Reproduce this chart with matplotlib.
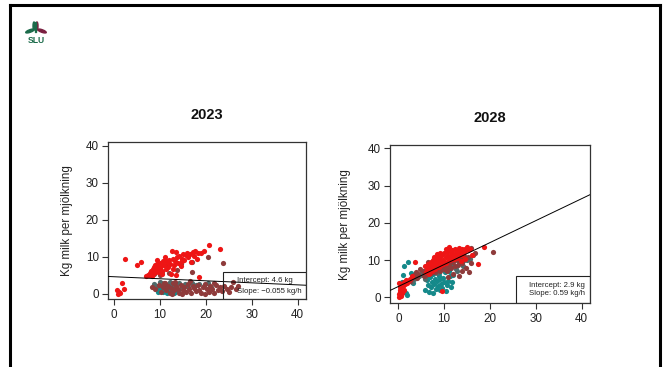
import matplotlib
matplotlib.use("Agg")
import matplotlib.pyplot as plt
from matplotlib.patches import Rectangle, Ellipse
from matplotlib.lines import Line2D

plt.rcParams['font.family'] = ['Liberation Sans', 'DejaVu Sans']

# ---------------- data ----------------
titles = ["2023", "2028"]
ylabel = "Kg milk per mjölkning"
ticks = [0, 10, 20, 30, 40]
intercepts = [4.6, 2.9]
slopes = [-0.055, 0.59]
legend_lines = [["Intercept: 4.6 kg", "Slope: \u22120.055 kg/h"],
                ["Intercept: 2.9 kg", "Slope: 0.59 kg/h"]]

# 2023
red23_x = [0.6, 0.9, 1.1, 1.7, 2.1, 1.4, 2.4, 4.9, 5.8,
           7.0, 7.3, 7.6, 7.8, 8.0, 8.2, 8.4, 8.6, 8.8, 9.0, 9.1, 9.3, 9.5, 9.6, 9.8,
           10.0, 10.1, 10.3, 10.5, 10.7, 10.9, 11.2, 11.4, 11.6, 11.8, 12.0, 12.2, 12.4,
           12.6, 12.8, 13.0, 13.2, 13.4, 13.5, 13.7, 14.0, 14.2, 14.5, 14.7, 14.9, 15.1,
           15.3, 15.6, 15.9, 16.2, 16.5, 16.8, 17.1, 17.4, 17.6, 18.0, 18.3, 18.6, 19.0,
           19.5, 20.7, 23.0, 9.4, 10.4, 11.0, 8.1, 12.9]
red23_y = [0.9, 0.0, 0.4, 2.8, 1.3, 0.2, 9.3, 7.7, 8.7,
           4.8, 5.2, 5.0, 5.6, 6.2, 4.9, 6.8, 7.2, 5.5, 7.8, 6.4, 8.1, 7.0, 5.8, 7.6,
           8.3, 6.9, 7.4, 6.2, 8.8, 7.9, 9.1, 6.8, 8.5, 7.2, 9.0, 8.0, 5.3,
           11.5, 9.4, 7.7, 8.9, 11.4, 5.2, 9.8, 8.3, 10.2, 7.5, 9.5, 8.8, 10.8,
           9.2, 10.5, 11.0, 9.9, 10.7, 8.6, 11.2, 10.1, 11.6, 9.5, 10.9, 4.4, 11.0,
           11.6, 13.2, 12.1, 9.0, 5.3, 10.0, 5.9, 6.6]
brown23_x = [20.5, 23.8, 16.9, 12.0, 17.0, 14.5, 11.5, 8.6, 13.8, 10.0,
             8.3, 9.0, 9.7, 10.2, 10.6, 11.0, 11.3, 11.7, 12.1, 12.4, 12.8, 13.1, 13.5,
             13.9, 14.2, 14.6, 15.0, 15.3, 15.7, 16.1, 16.4, 16.8, 17.2, 17.5, 17.9, 18.3,
             18.6, 19.0, 19.4, 19.8, 20.2, 20.6, 21.0, 21.4, 21.8, 22.2, 22.6, 23.0, 23.5,
             24.0, 24.5, 25.0, 25.5, 26.0, 26.6, 27.0, 12.6, 14.9, 19.7, 10.9, 16.6,
             21.7, 13.3]
brown23_y = [10.0, 8.2, 5.8, 5.5, 8.5, 8.0, 7.8, 5.3, 6.5, 5.0,
             1.8, 1.2, 2.4, 0.5, 1.9, 2.8, 1.1, 2.2, 0.2, 1.6, 2.9, 0.9, 2.0,
             1.4, 0.3, 2.5, 1.0, 1.9, 0.6, 2.7, 1.3, 0.1, 2.1, 1.5, 0.8, 2.4,
             1.0, 0.3, 1.8, 2.6, 1.2, 0.5, 2.0, 1.4, 0.2, 2.3, 1.0, 1.7, 0.7,
             2.2, 1.3, 0.6, 1.9, 3.2, 1.2, 2.0, 0.0, -0.1, 0.0, 3.0, 3.4,
             2.8, 3.3]
teal23_x = [9.2, 9.5, 9.8, 10.0, 10.2, 10.4, 10.6, 10.8, 11.0, 11.2, 11.4, 11.6,
            11.8, 12.0, 12.3, 12.6, 12.9, 13.2, 13.6, 14.0, 9.6, 10.9, 13.0, 11.5]
teal23_y = [1.5, 0.6, 1.1, 2.0, 0.9, 1.6, 0.4, 1.3, 0.8, 1.9, 1.0, 0.5,
            1.4, 2.2, 0.7, 1.2, 1.8, 0.6, 1.1, 0.9, 1.9, 2.3, 0.3, 0.2]
grey23_x = [8.7, 9.4, 10.3, 11.1, 11.9, 12.7, 13.4, 14.1, 14.8, 15.5, 16.2, 17.0,
            17.8, 18.6, 19.5, 20.4, 21.2, 9.9, 12.2, 10.4]
grey23_y = [2.6, 2.2, 2.9, 1.7, 2.7, 2.4, 1.6, 2.8, 1.9, 2.6, 1.7, 2.9,
            2.3, 2.7, 2.1, 2.9, 1.8, 3.1, 3.2, 5.9]

# 2028
red28_x = [0.1, 0.2, 0.3, 0.4, 0.5, 0.6, 0.7, 0.8, 0.9, 1.0, 1.2, 1.3, 1.5, 1.7,
           0.2, 0.4, 0.6, 0.3, 1.1, 1.9,
           3.6, 9.5, 17.3, 18.8, 16.0,
           5.8, 6.2, 6.5, 6.8, 7.0, 7.2, 7.4, 7.6, 7.8, 8.0, 8.2, 8.4, 8.6, 8.8, 9.0,
           9.2, 9.4, 9.6, 9.8, 10.0, 10.2, 10.4, 10.6, 10.8, 11.0, 11.2, 11.4, 11.6,
           11.8, 12.0, 12.2, 12.4, 12.6, 12.8, 13.0, 13.2, 13.4, 13.6, 13.8, 14.0,
           14.3, 14.6, 15.0, 15.3, 15.7, 6.0, 6.7, 7.3, 8.1, 8.9, 9.7, 10.5, 11.3,
           12.1, 12.9, 9.1, 10.3, 11.1, 7.9, 8.5, 13.7, 14.5, 2.1, 2.6, 3.1]
red28_y = [0.0, 1.0, 2.1, 0.6, 1.6, 2.8, 3.5, 1.2, 2.4, 3.1, 4.2, 2.0, 3.6, 4.6,
           3.9, 1.3, 0.4, 2.9, 1.7, 3.9,
           9.4, 1.8, 9.0, 13.4, 11.5,
           8.4, 7.6, 9.0, 8.2, 7.3, 9.5, 8.6, 10.1, 7.9, 9.2, 10.6, 8.5, 9.8, 11.0, 9.4,
           10.3, 8.8, 11.4, 10.0, 11.8, 9.6, 10.8, 12.2, 11.0, 9.9, 12.5, 11.3, 10.4,
           12.8, 11.6, 10.8, 13.0, 11.9, 12.4, 11.1, 13.3, 12.0, 12.7, 11.5, 13.1,
           12.2, 12.9, 13.6, 12.6, 13.0, 6.8, 6.3, 7.0, 7.7, 8.2, 9.0, 9.3, 10.0,
           10.2, 10.6, 12.0, 12.9, 13.4, 10.8, 11.6, 9.8, 10.4, 4.5, 5.0, 5.6]
brown28_x = [2.5, 3.0, 3.4, 3.9, 4.4, 4.8, 5.3, 5.6, 6.1, 6.6, 7.1, 7.5, 8.0, 8.3,
             8.7, 9.1, 9.5, 9.9, 10.3, 10.7, 11.1, 11.5, 11.9, 12.3, 12.7, 13.1, 13.5,
             13.9, 14.3, 14.7, 15.1, 15.5, 15.9, 16.3, 20.7, 12.0, 13.2, 10.9, 14.0,
             16.7, 15.8, 6.4, 4.0]
brown28_y = [4.4, 5.3, 6.0, 6.8, 6.2, 7.7, 7.0, 5.6, 6.0, 7.8, 6.5, 8.0, 6.9, 8.7,
             7.4, 7.0, 8.6, 7.6, 8.2, 7.2, 8.9, 7.8, 9.4, 8.4, 9.9, 8.8, 10.5,
             9.2, 11.2, 8.0, 10.8, 6.7, 9.3, 11.4, 12.1, 6.3, 5.8, 5.5, 7.2,
             12.0, 13.2, 9.6, 5.1]
teal28_x = [2.2, 1.3, 0.8, 1.6, 1.9, 0.5, 2.8, 1.0, 3.2,
            5.8, 6.2, 6.5, 6.8, 7.0, 7.2, 7.4, 7.6, 7.8, 8.0, 8.2, 8.4, 8.6, 8.8, 9.0,
            9.2, 9.4, 9.6, 9.8, 10.0, 10.3, 10.6, 10.9, 11.2, 11.5, 11.8, 6.0, 7.5,
            8.9, 10.2, 11.0, 12.0]
teal28_y = [9.5, 8.4, 4.0, 1.2, 0.7, 3.0, 6.6, 6.1, 3.8,
            2.0, 4.6, 3.2, 1.5, 5.4, 2.8, 4.0, 1.1, 3.5, 5.0, 2.3, 4.3, 3.0, 5.6, 1.9,
            4.8, 3.7, 2.6, 5.2, 4.1, 1.6, 3.2, 4.5, 5.8, 2.9, 4.0, 5.9, 6.2,
            6.5, 6.8, 7.2, 6.0]
grey28_x = [3.5, 4.1, 4.6, 5.1, 5.5, 6.0, 6.9, 7.7, 8.5, 9.3, 10.1, 10.9, 11.7,
            12.5, 13.3, 14.1, 14.9, 15.7, 3.0, 5.9, 12.8, 14.4]
grey28_y = [5.0, 6.3, 5.6, 6.9, 6.1, 7.4, 7.0, 7.6, 6.6, 7.8, 7.3, 8.0, 8.6,
            7.6, 9.4, 8.4, 9.9, 10.2, 4.2, 4.8, 7.0, 10.1]

panels = [
    dict(teal=(teal23_x, teal23_y), grey=(grey23_x, grey23_y),
         brown=(brown23_x, brown23_y), red=(red23_x, red23_y)),
    dict(teal=(teal28_x, teal28_y), grey=(grey28_x, grey28_y),
         brown=(brown28_x, brown28_y), red=(red28_x, red28_y)),
]
colors = dict(teal="#15898a", grey="#4f6a6a", brown="#8e3b3b", red="#ee1515")

# ---------------- figure ----------------
W, H = 667, 367
fig = plt.figure(figsize=(W / 100, H / 100), dpi=100)
fig.patch.set_facecolor("white")

def fx(px):
    return px / W

def fy(py):
    return 1 - py / H

# slide frame
for xs, ys in [([10, 660], [5, 5]), ([10, 10], [5, 367]), ([660, 660], [5, 367])]:
    fig.add_artist(Line2D([fx(v) for v in xs], [fy(v) for v in ys],
                          color="black", lw=2.2, transform=fig.transFigure))

# SLU logo
lax = fig.add_axes([fx(22), fy(47), fx(28), 30 / H])
lax.set_xlim(0, 28)
lax.set_ylim(30, 0)
lax.axis("off")
lax.add_patch(Ellipse((8.0, 14.0), 9, 2.6, angle=-20, color="#1b6b4a"))
lax.add_patch(Ellipse((20.0, 14.0), 9, 2.6, angle=20, color="#7a2040"))
lax.add_patch(Ellipse((12.0, 9), 2.0, 8, angle=0, color="#1b6b4a"))
lax.add_patch(Ellipse((15.0, 9), 2.0, 8, angle=0, color="#7a2040"))
lax.add_patch(Rectangle((13.0, 5), 1.0, 10, color="#1b6b4a"))
lax.text(14, 23.5, "SLU", ha="center", va="center", fontsize=6.2,
         fontweight="bold", color="#1b6b4a")

axes_px = [(108.3, 306.0, 141.7, 299.3), (390.0, 590.0, 145.0, 303.3)]
xlims = [(-1.25, 41.8), (-1.8, 41.8)]
ylims = [(-1.5, 41.1), (-1.6, 40.9)]
title_pos = [(206.7, 115.5), (490.0, 117.7)]
ylab_pos = [67, 345]
leg_box_x = [0.582, 0.628]
leg_box_h = [0.175, 0.174]
leg_text_x = [0.65, 0.697]
leg_text_y = [(0.117, 0.052), (0.115, 0.063)]

for i, p in enumerate(panels):
    l, r, t, b = axes_px[i]
    ax = fig.add_axes([fx(l), fy(b), (r - l) / W, (b - t) / H])
    for key in ["teal", "grey", "brown", "red"]:
        xs, ys = p[key]
        ax.scatter(xs, ys, s=14, color=colors[key], linewidths=0, zorder=2)
    ax.set_xlim(*xlims[i])
    ax.set_ylim(*ylims[i])
    ax.axline((0, intercepts[i]), slope=slopes[i], color="black", lw=0.7, zorder=3)
    ax.set_xticks(ticks)
    ax.set_yticks(ticks)
    ax.tick_params(direction="out", length=4.3, width=0.8, color="#333333",
                   labelsize=8.4, labelcolor="#222222")
    ax.tick_params(axis="x", pad=2.5)
    ax.tick_params(axis="y", pad=2.5)
    for s in ax.spines.values():
        s.set_color("#333333")
        s.set_linewidth(0.9)
    ax.add_patch(Rectangle((leg_box_x[i], 0), 1 - leg_box_x[i], leg_box_h[i],
                           transform=ax.transAxes, fill=False, edgecolor="#222222",
                           lw=0.8, zorder=4))
    for j, txt in enumerate(legend_lines[i]):
        ax.text(leg_text_x[i], leg_text_y[i][j], txt, transform=ax.transAxes,
                fontsize=5.6, ha="left", va="center", color="#222222", zorder=5)
    tx, ty = title_pos[i]
    fig.text(fx(tx), fy(ty), titles[i], ha="center", va="center",
             fontsize=10.5, fontweight="bold", color="#111111")
    fig.text(fx(ylab_pos[i]), fy((t + b) / 2), ylabel, rotation=90,
             ha="center", va="center", fontsize=8.4, color="#222222")

fig.savefig("out.png", dpi=100)
